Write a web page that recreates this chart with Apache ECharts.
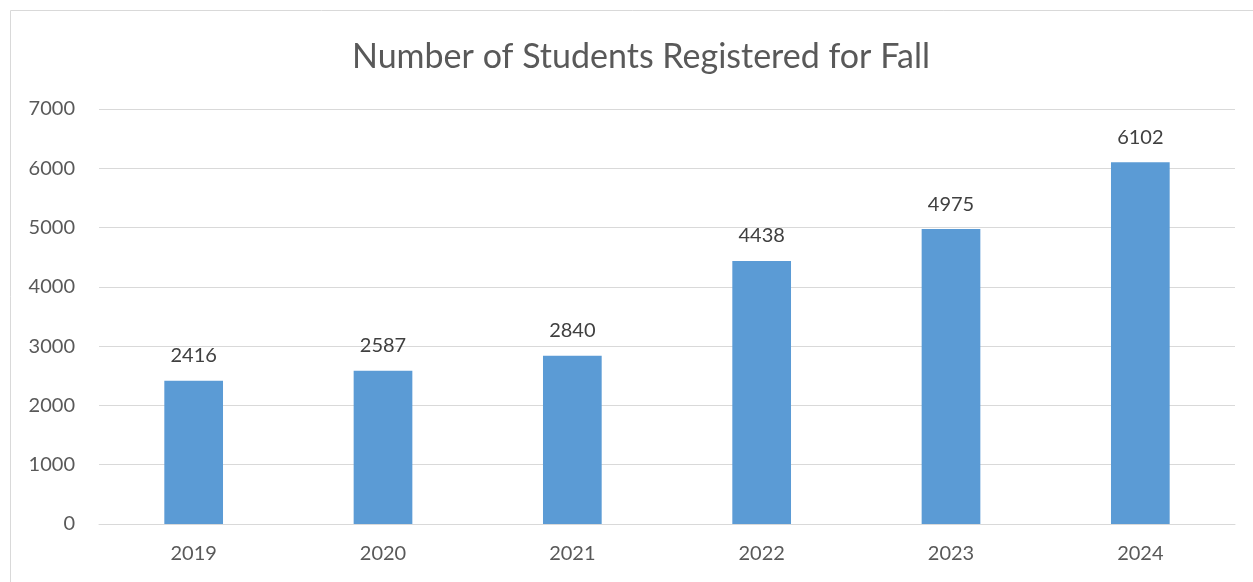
<!DOCTYPE html>
<html>
<head>
<meta charset="utf-8">
<script src="https://cdn.jsdelivr.net/npm/echarts@6/dist/echarts.min.js"></script>
<style>
  html, body { margin: 0; padding: 0; background: #fff; }
  #chart { width: 1253px; height: 582px; }
</style>
</head>
<body>
<div id="chart"></div>
<script>
// registration counts per fall term
const years = ['2019', '2020', '2021', '2022', '2023', '2024'];
const students = [2416, 2587, 2840, 4438, 4975, 6102];
const yTicks = [0, 1000, 2000, 3000, 4000, 5000, 6000, 7000];

const font = 'Lato, "Open Sans", sans-serif';
const chart = echarts.init(document.getElementById('chart'));

chart.setOption({
    animation: false,
    textStyle: { fontFamily: font },
    graphic: [{
        type: 'rect',
        shape: { x: 10.5, y: 10.5, width: 1260, height: 600 },
        style: { fill: 'none', stroke: '#d9d9d9', lineWidth: 1 },
        silent: true
    }],
    title: {
        text: 'Number of Students Registered for Fall',
        left: 347,
        top: 35,
        textStyle: { fontFamily: font, fontSize: 34, fontWeight: 'normal', color: '#595959' }
    },
    grid: { left: 99, right: 18, top: 109, bottom: 58 },
    xAxis: {
        type: 'category',
        data: years,
        axisTick: { show: false },
        axisLine: { lineStyle: { color: '#d9d9d9', width: 1 } },
        axisLabel: { color: '#595959', fontSize: 20, margin: 20, fontFamily: font }
    },
    yAxis: {
        type: 'value',
        min: yTicks[0],
        max: yTicks[yTicks.length - 1],
        interval: 1000,
        axisLine: { show: false },
        axisTick: { show: false },
        splitLine: { lineStyle: { color: '#d9d9d9', width: 1 } },
        axisLabel: {
            color: '#595959', fontSize: 20, margin: 24, fontFamily: font,
            formatter: v => String(v)
        }
    },
    series: [{
        type: 'bar',
        data: students,
        barWidth: '31%',
        itemStyle: { color: '#5b9bd5' },
        label: {
            show: true,
            position: 'top',
            distance: 15,
            color: '#404040',
            fontSize: 20,
            fontFamily: font
        }
    }]
});
</script>
</body>
</html>
